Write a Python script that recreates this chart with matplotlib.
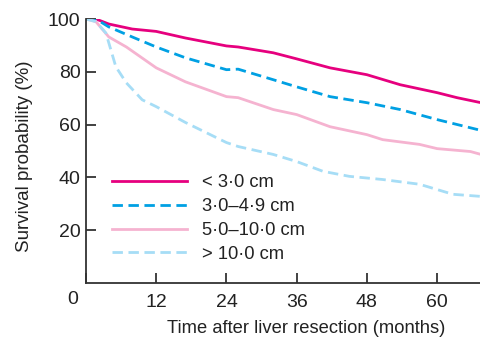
import matplotlib
matplotlib.use("Agg")
import matplotlib.pyplot as plt

plt.rcParams['font.family'] = ['Liberation Sans', 'DejaVu Sans']
plt.rcParams['lines.scale_dashes'] = False

labels = ["< 3·0 cm", "3·0–4·9 cm", "5·0–10·0 cm", "> 10·0 cm"]

t_a = [0, 1.7, 3.9, 7.9, 12, 17, 24, 26, 32, 36, 41.7, 48, 53.7, 60, 63.4, 67.5]
s_a = [100, 100, 98.1, 96.2, 95.3, 92.8, 89.8, 89.4, 87.2, 84.9, 81.5, 78.9, 75.1, 72.1, 70.2, 68.3]

t_b = [0, 1.7, 3.9, 7.9, 12, 17, 24, 26, 32, 36, 41.7, 48, 53.7, 60, 67.5]
s_b = [100, 100, 97.0, 93.2, 89.4, 85.3, 80.8, 81.0, 77.0, 74.3, 70.6, 68.3, 65.7, 61.9, 57.8]

t_c = [0, 1.7, 3.9, 6.9, 12, 17, 24, 26, 32, 36, 41.7, 48, 50.7, 57, 60, 65.7, 67.5]
s_c = [100, 99, 93.2, 89.4, 81.5, 76.2, 70.6, 70.2, 65.7, 63.8, 59.2, 56.2, 54.3, 52.5, 50.9, 49.8, 48.7]

t_d = [0, 1.7, 3.4, 5.1, 6.9, 9.6, 12, 17, 24, 26, 32, 36, 40.5, 45, 50.7, 57, 62.7, 67.5]
s_d = [100, 99, 94.7, 81.9, 75.8, 69.4, 66.8, 60.8, 53.2, 51.7, 48.7, 46.0, 42.3, 40.4, 39.2, 37.4, 33.6, 32.8]

xticks = [0, 12, 24, 36, 48, 60]
xticklabels = ["", "12", "24", "36", "48", "60"]
yticks = [20, 40, 60, 80, 100]

W, H = 481, 339
fig = plt.figure(figsize=(W/100, H/100), dpi=100)
ax = fig.add_axes([86/W, (H-283)/H, (481-86)/W, (283-19)/H])

c_a, c_b, c_c, c_d = "#E6007E", "#00A0E3", "#F5B3D0", "#A6DDF6"
ax.plot(t_a, s_a, color=c_a, lw=2.0, label=labels[0])
ax.plot(t_b, s_b, color=c_b, lw=2.0, dashes=(7.5, 4), label=labels[1])
ax.plot(t_c, s_c, color=c_c, lw=2.0, label=labels[2])
ax.plot(t_d, s_d, color=c_d, lw=2.0, dashes=(7.5, 4), label=labels[3])

ax.set_xlim(0, 67.5)
ax.set_ylim(0, 100)
ax.set_xticks(xticks)
ax.set_xticklabels(xticklabels)
ax.set_yticks(yticks)
for s in ["top", "right"]:
    ax.spines[s].set_visible(False)
for s in ["left", "bottom"]:
    ax.spines[s].set_color("#333333")
    ax.spines[s].set_linewidth(1.3)
ax.tick_params(direction="in", length=7, width=1.3, color="#333333", labelsize=14, labelcolor="#222222")
ax.tick_params(axis="x", pad=8)
ax.tick_params(axis="y", pad=4)

ax.text(-13/395*67.5, -(300-283)/264*100, "0", ha="center", va="center", fontsize=14, color="#222222",
        transform=ax.transData, clip_on=False)

ax.set_ylabel("Survival probability (%)", fontsize=13.5, color="#222222")
ax.yaxis.set_label_coords(-(86-33)/395, (283-156)/264)
ax.set_xlabel("Time after liver resection (months)", fontsize=13.2, color="#222222")
ax.xaxis.set_label_coords((306-86)/395, -(320-283)/264)

leg = ax.legend(loc="upper left", bbox_to_anchor=((112-86)/395, (283-174)/264),
                frameon=False, fontsize=13.2, handlelength=4.1, handletextpad=0.8,
                labelspacing=0.38, borderpad=0, borderaxespad=0)
for t in leg.get_texts():
    t.set_color("#222222")

fig.savefig("out.png", dpi=100)
